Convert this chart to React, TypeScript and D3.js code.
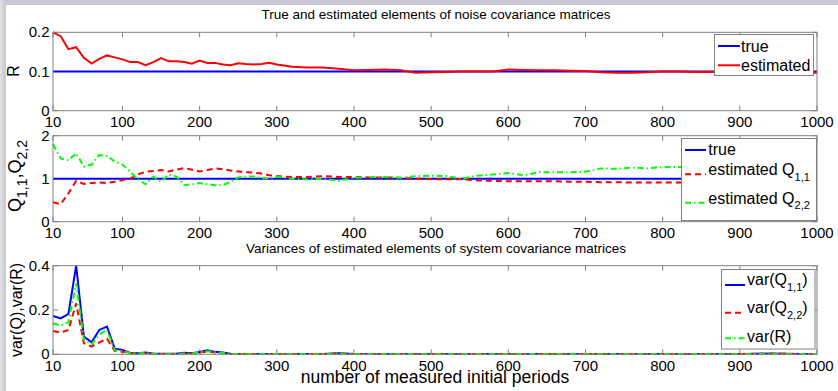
import React from 'react';
import * as d3 from 'd3';

const periods = [10,20,30,40,50,60,70,80,90,100,110,120,130,140,150,160,170,180,190,200,210,220,230,240,250,260,270,280,290,300,320,340,360,380,400,420,440,460,480,500,520,540,560,580,600,620,640,660,680,700,720,740,760,780,800,820,840,860,880,900,920,940,960,980,1000];

const trueX = [10, 1000];
const trueR = [0.1, 0.1];
const trueQ = [1, 1];

const rEstimated = [
  0.200,0.190,0.157,0.162,0.135,0.120,0.132,0.141,0.136,0.131,
  0.124,0.124,0.116,0.124,0.134,0.126,0.126,0.124,0.120,0.128,
  0.122,0.122,0.118,0.116,0.121,0.119,0.118,0.119,0.122,0.118,
  0.112,0.110,0.110,0.107,0.103,0.104,0.105,0.103,0.097,0.098,
  0.099,0.100,0.100,0.100,0.105,0.104,0.103,0.103,0.102,0.101,
  0.098,0.097,0.097,0.098,0.100,0.100,0.099,0.099,0.100,0.100,
  0.100,0.099,0.099,0.098,0.097];

const q11Estimated = [
  0.45,0.41,0.66,0.95,0.88,0.90,0.91,0.90,0.93,0.97,
  1.00,1.10,1.16,1.18,1.20,1.17,1.21,1.25,1.21,1.17,
  1.20,1.24,1.22,1.19,1.17,1.15,1.14,1.12,1.08,1.06,
  1.04,1.04,1.06,1.04,1.04,1.03,1.03,1.02,1.00,0.99,
  0.99,0.99,0.96,0.95,0.94,0.94,0.94,0.94,0.93,0.93,
  0.92,0.92,0.91,0.91,0.91,0.91,0.91,0.91,0.90,0.90,
  0.90,0.90,0.90,0.90,0.90];

const q22Estimated = [
  1.80,1.47,1.43,1.59,1.28,1.33,1.55,1.53,1.40,1.33,
  1.16,0.99,0.87,1.05,0.93,1.09,1.05,0.85,0.87,0.90,
  0.87,0.85,0.85,0.93,1.03,1.05,1.05,1.02,1.00,1.05,
  1.00,0.98,1.00,0.95,1.02,1.04,1.04,1.02,1.06,1.07,
  1.06,1.00,1.07,1.10,1.13,1.08,1.15,1.15,1.15,1.16,
  1.24,1.23,1.26,1.24,1.27,1.27,1.27,1.26,1.26,1.25,
  1.25,1.25,1.24,1.24,1.24];

const varQ11 = [
  0.173,0.162,0.182,0.400,0.080,0.054,0.110,0.125,0.025,0.020,
  0.006,0.005,0.008,0.003,0.002,0.002,0.002,0.007,0.005,0.010,
  0.018,0.011,0.008,0.002,0.001,0.001,0.001,0.001,0.001,0.001,
  0.001,0.001,0.001,0.005,0.001,0.001,0.001,0.001,0.001,0.001,
  0.001,0.001,0.001,0.001,0.001,0.001,0.001,0.001,0.001,0.001,
  0.001,0.001,0.001,0.001,0.001,0.001,0.001,0.001,0.001,0.001,
  0.002,0.004,0.002,0.001,0.001];

const varQ22 = [
  0.105,0.098,0.110,0.230,0.050,0.035,0.054,0.070,0.015,0.012,
  0.004,0.004,0.006,0.002,0.001,0.001,0.001,0.005,0.004,0.008,
  0.012,0.008,0.005,0.001,0.001,0.001,0.001,0.001,0.001,0.001,
  0.001,0.001,0.001,0.004,0.001,0.001,0.001,0.001,0.001,0.001,
  0.001,0.001,0.001,0.001,0.001,0.001,0.001,0.001,0.001,0.001,
  0.001,0.001,0.001,0.001,0.001,0.001,0.001,0.001,0.001,0.001,
  0.002,0.003,0.002,0.001,0.001];

const varR = [
  0.140,0.130,0.145,0.320,0.065,0.045,0.090,0.110,0.018,0.015,
  0.005,0.004,0.006,0.002,0.001,0.001,0.001,0.004,0.004,0.009,
  0.014,0.009,0.006,0.001,0.001,0.001,0.001,0.001,0.001,0.001,
  0.001,0.001,0.001,0.003,0.001,0.001,0.001,0.001,0.001,0.001,
  0.001,0.001,0.001,0.001,0.001,0.001,0.001,0.001,0.001,0.001,
  0.001,0.001,0.001,0.001,0.001,0.001,0.001,0.001,0.001,0.001,
  0.001,0.002,0.001,0.001,0.001];

const xTicks = [10,100,200,300,400,500,600,700,800,900,1000];
const yTicksR = [0, 0.1, 0.2];
const yTicksQ = [0, 1, 2];
const yTicksVar = [0, 0.2, 0.4];

const FONT = '"Liberation Sans", Arial, Helvetica, sans-serif';
const AXIS = '#808080';
const BLUE = '#0000ff';
const RED = '#ff0000';
const GREEN = '#00ff00';
const DASH = '6,4';
const DASHDOT = '6,3,1.5,3';

const W = 838, H = 391;
const X0 = 53, X1 = 817;

const x = d3.scaleLinear().domain([10, 1000]).range([X0, X1]);

function Panel({ top, bottom, domain, ticks, children }) {
  const y = d3.scaleLinear().domain(domain).range([bottom, top]);
  const tl = 5;
  return (
    <g>
      {xTicks.map((t) => (
        <g key={'x' + t}>
          <line x1={x(t)} x2={x(t)} y1={bottom} y2={bottom - tl} stroke={AXIS} />
          <line x1={x(t)} x2={x(t)} y1={top} y2={top + tl} stroke={AXIS} />
          <text x={x(t)} y={bottom + 16.5} fontSize={15} textAnchor="middle" fontFamily={FONT} fill="#000">{t}</text>
        </g>
      ))}
      {ticks.map((t) => (
        <g key={'y' + t}>
          <line x1={X0} x2={X0 + tl} y1={y(t)} y2={y(t)} stroke={AXIS} />
          <line x1={X1} x2={X1 - tl} y1={y(t)} y2={y(t)} stroke={AXIS} />
          <text x={49.5} y={y(t) + 5} fontSize={15} textAnchor="end" fontFamily={FONT} fill="#000">{String(t)}</text>
        </g>
      ))}
      {children(y)}
      <rect x={X0} y={top} width={X1 - X0} height={bottom - top} fill="none" stroke={AXIS} />
    </g>
  );
}

function Series({ xs, ys, y, color, dash }) {
  const gen = d3.line<number>().x((_, i) => x(xs[i])).y((d) => y(d));
  return <path d={gen(ys) || ''} fill="none" stroke={color} strokeWidth={2} strokeDasharray={dash} />;
}

export default function App() {
  return (
    <svg width={W} height={H} style={{ position: 'absolute', left: 0, top: 0, background: '#fff' }} fontFamily={FONT}>
      <rect x={0} y={0} width={W} height={H} fill="#fff" />
      <rect x={0} y={0} width={W} height={5} fill="#c8c8d4" />
      <rect x={0} y={0} width={6} height={H} fill="#cdcdd4" />
      <rect x={0} y={0} width={2.5} height={H} fill="#dedee2" />

      <text x={436} y={18.5} fontSize={13.5} textAnchor="middle">True and estimated elements of noise covariance matrices</text>
      <text x={436} y={253} fontSize={13.5} textAnchor="middle">Variances of estimated elements of system covariance matrices</text>
      <text x={435} y={382.5} fontSize={17.5} textAnchor="middle">number of measured initial periods</text>

      <text transform="translate(18.5,71) rotate(-90)" fontSize={16} textAnchor="middle">R</text>
      <text transform="translate(21,176) rotate(-90)" fontSize={18} textAnchor="middle">
        Q<tspan fontSize={14} dy={6}>1,1</tspan><tspan dy={-6}>,Q</tspan><tspan fontSize={14} dy={6}>2,2</tspan>
      </text>
      <text transform="translate(21.5,310) rotate(-90)" fontSize={16} textAnchor="middle">var(Q),var(R)</text>

      <Panel top={32.3} bottom={110.7} domain={[0, 0.2]} ticks={yTicksR}>
        {(y) => (
          <g>
            <Series xs={trueX} ys={trueR} y={y} color={BLUE} />
            <Series xs={periods} ys={rEstimated} y={y} color={RED} />
            <rect x={714.5} y={34.5} width={99} height={41} fill="#fff" stroke={AXIS} />
            <line x1={718} x2={740} y1={46} y2={46} stroke={BLUE} strokeWidth={2} />
            <text x={741} y={51.7} fontSize={16}>true</text>
            <line x1={718} x2={740} y1={65.3} y2={65.3} stroke={RED} strokeWidth={2} />
            <text x={741} y={71} fontSize={16}>estimated</text>
          </g>
        )}
      </Panel>

      <Panel top={135.7} bottom={221.7} domain={[0, 2]} ticks={yTicksQ}>
        {(y) => (
          <g>
            <Series xs={trueX} ys={trueQ} y={y} color={BLUE} />
            <Series xs={periods} ys={q11Estimated} y={y} color={RED} dash={DASH} />
            <Series xs={periods} ys={q22Estimated} y={y} color={GREEN} dash={DASHDOT} />
            <rect x={681.5} y={138.5} width={135} height={82} fill="#fff" stroke={AXIS} />
            <line x1={685} x2={706} y1={150} y2={150} stroke={BLUE} strokeWidth={2} />
            <text x={708.3} y={155} fontSize={16}>true</text>
            <line x1={685} x2={706} y1={174.3} y2={174.3} stroke={RED} strokeWidth={2} strokeDasharray={DASH} />
            <text x={708.3} y={175.3} fontSize={16}>estimated Q<tspan fontSize={11} dy={5.5}>1,1</tspan></text>
            <line x1={685} x2={706} y1={202.7} y2={202.7} stroke={GREEN} strokeWidth={2} strokeDasharray={DASHDOT} />
            <text x={708.3} y={203.5} fontSize={16}>estimated Q<tspan fontSize={11} dy={5.5}>2,2</tspan></text>
          </g>
        )}
      </Panel>

      <Panel top={265.7} bottom={354.3} domain={[0, 0.4]} ticks={yTicksVar}>
        {(y) => (
          <g>
            <Series xs={periods} ys={varQ11} y={y} color={BLUE} />
            <Series xs={periods} ys={varQ22} y={y} color={RED} dash={DASH} />
            <Series xs={periods} ys={varR} y={y} color={GREEN} dash={DASHDOT} />
            <rect x={721.5} y={269.5} width={93.5} height={79.5} fill="#fff" stroke={AXIS} />
            <line x1={725} x2={745} y1={285} y2={285} stroke={BLUE} strokeWidth={2} />
            <text x={747} y={285} fontSize={16}>var(Q<tspan fontSize={11} dy={5.5}>1,1</tspan><tspan dy={-5.5}>)</tspan></text>
            <line x1={725} x2={745} y1={312.7} y2={312.7} stroke={RED} strokeWidth={2} strokeDasharray={DASH} />
            <text x={747} y={313.3} fontSize={16}>var(Q<tspan fontSize={11} dy={5.5}>2,2</tspan><tspan dy={-5.5}>)</tspan></text>
            <line x1={725} x2={745} y1={338.3} y2={338.3} stroke={GREEN} strokeWidth={2} strokeDasharray={DASHDOT} />
            <text x={747} y={342.3} fontSize={16}>var(R)</text>
          </g>
        )}
      </Panel>
    </svg>
  );
}
